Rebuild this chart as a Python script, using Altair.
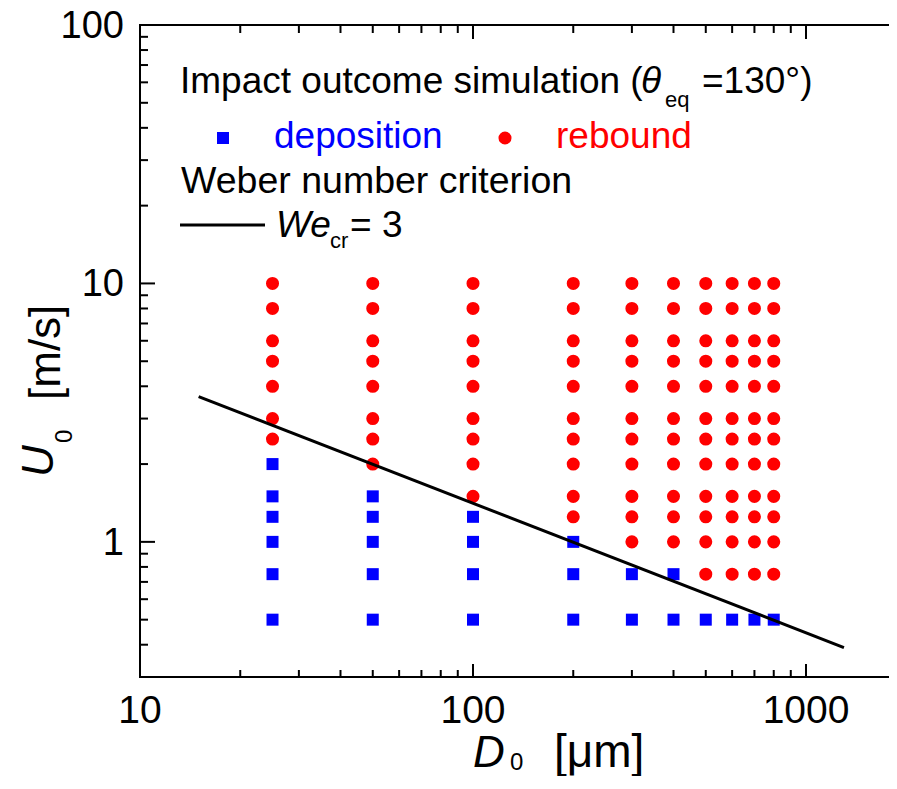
import altair as alt
import pandas as pd

# ---------------- data ----------------
D_um = [25, 50, 100, 200, 300, 400, 500, 600, 700, 800]
U_ms = [0.5, 0.75, 1, 1.25, 1.5, 2, 2.5, 3, 4, 5, 6, 8, 10]
# lowest simulated U0 that rebounds, per droplet diameter column
rebound_from = [2.5, 2, 1.5, 1.25, 1, 1, 0.75, 0.75, 0.75, 0.75]

# Weber-number criterion line end points (We_cr = 3)
we_D = [15, 1300]
we_U = [3.65, 0.39]

x_major = [10, 100, 1000]
x_labels = ["10", "100", "1000"]
x_minor = [20, 30, 40, 50, 60, 70, 80, 90, 200, 300, 400, 500, 600, 700, 800, 900]
y_major = [1, 10, 100]
y_labels = ["1", "10", "100"]
y_minor = [0.3, 0.4, 0.5, 0.6, 0.7, 0.8, 0.9, 2, 3, 4, 5, 6, 7, 8, 9,
           20, 30, 40, 50, 60, 70, 80, 90]

rows = []
for d, thr in zip(D_um, rebound_from):
    for u in U_ms:
        rows.append({"D": d, "U": u, "outcome": "rebound" if u >= thr else "deposition"})
pts = pd.DataFrame(rows)
line_df = pd.DataFrame({"D": we_D, "U": we_U})

# ---------------- layout ----------------
W, H = 749, 652
FONT = "Liberation Sans"
BLUE = "#0000ff"
RED = "#ff0000"

xs = alt.Scale(type="log", domain=[10, 1775], nice=False)
ys = alt.Scale(type="log", domain=[0.3, 100], nice=False)

one = pd.DataFrame({"a": [0]})

dep = alt.Chart(pts).transform_filter(alt.datum.outcome == "deposition").mark_square(
    size=144, color=BLUE, opacity=1
).encode(x=alt.X("D:Q", scale=xs, axis=None), y=alt.Y("U:Q", scale=ys, axis=None))

reb = alt.Chart(pts).transform_filter(alt.datum.outcome == "rebound").mark_circle(
    size=170, color=RED, opacity=1
).encode(x=alt.X("D:Q", scale=xs, axis=None), y=alt.Y("U:Q", scale=ys, axis=None))

we_line = alt.Chart(line_df).mark_line(color="black", strokeWidth=3).encode(
    x=alt.X("D:Q", scale=xs, axis=None), y=alt.Y("U:Q", scale=ys, axis=None))


def xticks(vals, y0, y1):
    return alt.Chart(pd.DataFrame({"v": vals})).mark_rule(color="black", strokeWidth=2).encode(
        x=alt.X("v:Q", scale=xs, axis=None), y=alt.value(y0), y2=alt.value(y1))


def yticks(vals, x0, x1):
    return alt.Chart(pd.DataFrame({"v": vals})).mark_rule(color="black", strokeWidth=2).encode(
        y=alt.Y("v:Q", scale=ys, axis=None), x=alt.value(x0), x2=alt.value(x1))


tick_layers = [
    xticks(x_major, H, H - 13), xticks(x_minor, H, H - 7),
    xticks(x_major, 0, 14), xticks(x_minor, 0, 8),
    yticks(y_major, 0, 15), yticks(y_minor, 0, 8),
]

frame_layers = [
    alt.Chart(one).mark_rule(color="black", strokeWidth=2).encode(
        x=alt.value(0), x2=alt.value(W), y=alt.value(0)),
    alt.Chart(one).mark_rule(color="black", strokeWidth=2).encode(
        x=alt.value(-1), x2=alt.value(W), y=alt.value(H)),
    alt.Chart(one).mark_rule(color="black", strokeWidth=2).encode(
        x=alt.value(0), y=alt.value(-1), y2=alt.value(H + 1)),
]

xlab = alt.Chart(pd.DataFrame({"v": x_major, "lab": x_labels})).mark_text(
    font=FONT, fontSize=39, color="black", align="center", baseline="alphabetic"
).encode(x=alt.X("v:Q", scale=xs, axis=None), y=alt.value(H + 46), text="lab:N")

ylab = alt.Chart(pd.DataFrame({"v": y_major, "lab": y_labels})).mark_text(
    font=FONT, fontSize=38, color="black", align="right", baseline="alphabetic", dy=13
).encode(y=alt.Y("v:Q", scale=ys, axis=None), x=alt.value(-16), text="lab:N")


def txt(s, x, y, size=37, color="black", style="normal", angle=0):
    return alt.Chart(one).mark_text(
        text=s, font=FONT, fontSize=size, color=color, fontStyle=style,
        align="left", baseline="alphabetic", angle=angle
    ).encode(x=alt.value(x), y=alt.value(y))


legend_layers = [
    txt("Impact outcome simulation (", 40, 68),
    txt("θ", 501, 68, style="italic"),
    txt("eq", 525, 82, size=22),
    txt("=130°)", 562, 68),
    alt.Chart(one).mark_square(size=144, color=BLUE, opacity=1).encode(
        x=alt.value(83), y=alt.value(113)),
    txt("deposition", 134, 123, color=BLUE),
    alt.Chart(one).mark_circle(size=170, color=RED, opacity=1).encode(
        x=alt.value(365), y=alt.value(113)),
    txt("rebound", 416, 123, color=RED),
    txt("Weber number criterion", 41, 168, size=37.5),
    alt.Chart(one).mark_rule(color="black", strokeWidth=3).encode(
        x=alt.value(40), x2=alt.value(125), y=alt.value(200)),
    txt("We", 136, 212, style="italic"),
    txt("cr", 190, 223, size=22),
    txt("= 3", 210, 212),
]

title_layers = [
    txt("D", 333, 742, size=44, style="italic"),
    txt("0", 370, 745, size=24),
    txt("[μm]", 414, 742, size=46),
    txt("U", -87, 452, size=44, style="italic", angle=270),
    txt("0", -68, 418, size=24, angle=270),
    txt("[m/s]", -80, 375, size=44, angle=270),
]

chart = alt.layer(
    dep, reb, we_line, *tick_layers, *frame_layers, xlab, ylab,
    *legend_layers, *title_layers
).properties(
    width=W, height=H,
    padding={"left": 132, "top": 17, "right": 0, "bottom": 99},
    autosize="none",
    background="white",
).configure_view(stroke=None)

chart.save("out.html", embed_options={"renderer": "svg", "actions": False})
